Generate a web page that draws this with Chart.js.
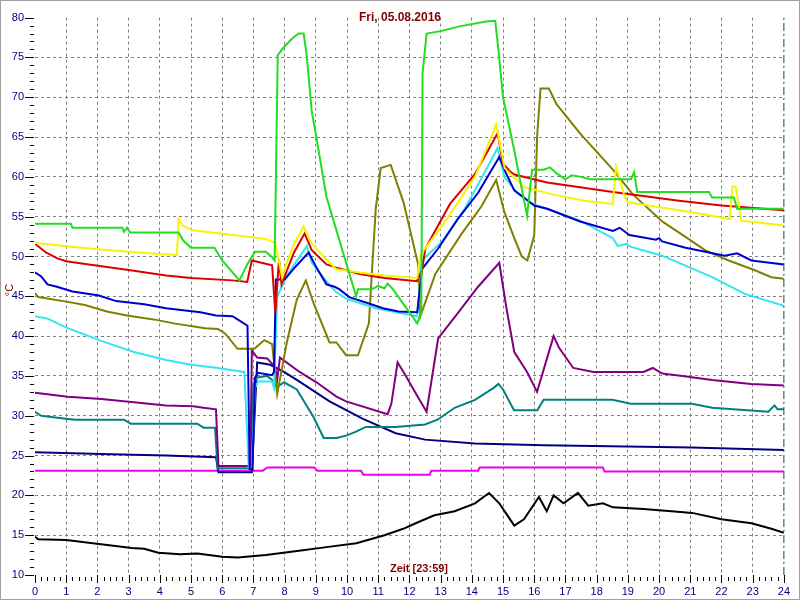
<!DOCTYPE html>
<html>
<head>
<meta charset="utf-8">
<script src="https://cdn.jsdelivr.net/npm/chart.js@4.4.1/dist/chart.umd.min.js"></script>
<style>
  html, body { margin: 0; padding: 0; background: #ffffff; }
  #wrap { width: 800px; height: 600px; }
</style>
</head>
<body>
<div id="wrap"><canvas id="chart" width="800" height="600"></canvas></div>
<script>
// series data: [hour, °C]
const green = [[0,54.1],[1.15,54.1],[1.2,53.6],[2.8,53.6],[2.85,53.1],[2.95,53.6],[3.05,53.0],[4.6,53.0],[4.75,52.0],[5.0,51.1],[5.75,51.1],[6.0,49.5],[6.33,48.0],[6.55,47.0],[6.8,49.0],[7.05,50.6],[7.4,50.6],[7.6,49.9],[7.68,49.5],[7.78,75.3],[8.0,76.4],[8.25,77.4],[8.45,78.0],[8.61,78.0],[8.71,75.2],[8.87,68.2],[9.02,64.9],[9.34,57.5],[10.29,45.0],[10.35,45.9],[10.8,45.9],[11.0,46.3],[11.2,46.0],[11.3,46.6],[11.45,46.0],[12.25,41.6],[12.38,43.0],[12.42,73.0],[12.55,78.0],[13.0,78.3],[13.6,78.9],[14.45,79.5],[14.75,79.6],[14.85,76.0],[15.0,70.0],[15.36,63.3],[15.77,55.1],[15.93,60.9],[16.3,60.9],[16.5,61.2],[16.7,60.5],[17.0,59.7],[17.2,60.2],[17.5,60.0],[17.8,59.7],[19.1,59.7],[19.2,60.6],[19.3,58.1],[21.6,58.1],[21.7,57.4],[22.4,57.4],[22.5,56.0],[24,56.0]];
const yellow = [[0,51.7],[0.5,51.5],[1,51.3],[2,50.9],[3,50.6],[4,50.3],[4.55,50.2],[4.6,54.7],[4.75,53.8],[5.07,53.3],[6.33,52.7],[7.0,52.4],[7.4,52.2],[7.7,51.7],[7.92,47.4],[8.0,48.5],[8.3,51.5],[8.61,53.8],[8.85,51.7],[9.34,49.6],[9.66,48.4],[10.4,48.0],[11.2,47.6],[12.25,47.3],[12.35,50.2],[13.2,54.7],[14.1,60.0],[14.78,66.6],[15.05,61.1],[15.67,58.7],[16.6,57.8],[17.6,57.0],[18.52,56.6],[18.62,61.3],[18.72,60.0],[18.9,57.5],[19.0,56.8],[20,56.2],[21,55.6],[22.26,54.7],[22.35,58.8],[22.45,58.8],[22.64,54.5],[23.3,54.2],[24,53.9]];
const red = [[0,51.6],[0.35,50.5],[0.7,49.8],[1.0,49.4],[1.9,48.9],[3,48.3],[4.2,47.6],[5,47.3],[6.33,47.0],[6.8,46.8],[6.95,49.5],[7.6,48.9],[7.7,42.9],[7.82,49.6],[7.9,46.5],[8.0,47.5],[8.3,50.5],[8.64,52.9],[8.87,50.8],[9.34,49.0],[9.66,48.6],[10.4,47.8],[11.2,47.3],[12.24,46.9],[12.4,48.2],[12.51,51.0],[13.3,56.6],[14.09,60.3],[14.83,65.5],[14.99,61.7],[15.25,60.6],[15.36,60.3],[16.41,59.3],[18.52,58.1],[20.64,57.0],[22,56.4],[24,55.8]];
const blue = [[0,48.0],[0.2,47.5],[0.4,46.5],[0.7,46.2],[1.2,45.6],[2.05,45.1],[2.6,44.4],[3.5,44.0],[4.2,43.5],[5.3,43.0],[5.8,42.6],[6.33,42.5],[6.49,42.1],[6.81,41.3],[6.88,23.3],[6.97,23.3],[7.05,34.8],[7.15,35.4],[7.6,35.1],[7.66,35.5],[7.72,47.1],[8.0,47.1],[8.3,48.5],[8.77,50.5],[9.02,48.6],[9.34,46.5],[9.6,46.2],[9.75,45.9],[10.07,44.9],[10.7,44.1],[11.15,43.5],[11.65,43.1],[12.25,43.0],[12.4,48.4],[12.92,51.0],[13.55,54.7],[14.2,58.0],[14.88,62.5],[15.09,60.5],[15.36,58.3],[16.0,56.4],[16.41,56.0],[17.47,54.4],[18.52,53.2],[18.74,53.6],[19.05,52.7],[19.9,52.1],[20.0,52.3],[20.1,51.9],[20.85,51.1],[22.1,50.1],[22.5,50.4],[22.96,49.5],[24,49.0]];
const olive = [[0,45.4],[0.1,44.9],[1.05,44.3],[1.6,43.9],[2.3,43.1],[2.95,42.6],[3.8,42.1],[4.45,41.6],[5.45,41.0],[5.86,40.9],[6.1,40.3],[6.49,38.4],[7.03,38.4],[7.35,39.5],[7.6,39.0],[7.76,32.7],[8.07,39.2],[8.39,44.6],[8.68,47.0],[8.93,44.1],[9.44,39.2],[9.66,39.2],[9.97,37.6],[10.35,37.6],[10.7,41.6],[10.92,56.0],[11.08,61.1],[11.4,61.5],[11.81,56.8],[12.28,49.0],[12.35,42.5],[12.83,47.8],[13.68,52.9],[14.31,56.3],[14.78,59.6],[15.04,55.6],[15.36,52.3],[15.6,50.0],[15.78,49.5],[16.0,52.7],[16.09,65.0],[16.2,71.1],[16.47,71.1],[16.72,69.1],[17.48,65.4],[18.52,60.9],[19.16,57.8],[20.1,54.4],[21.06,51.9],[21.47,50.8],[22.23,49.5],[23.05,48.3],[23.6,47.4],[24,47.2]];
const cyan = [[0,42.5],[0.4,42.2],[1.05,41.0],[2.12,39.4],[3.17,38.0],[4.2,37.0],[5.0,36.4],[5.86,36.0],[6.33,35.7],[6.71,35.5],[6.85,23.5],[6.95,23.5],[7.05,33.5],[7.15,34.3],[7.6,34.3],[7.66,33.5],[7.76,44.9],[8.07,47.6],[8.71,51.3],[8.87,49.2],[9.44,46.4],[9.66,45.5],[9.97,44.7],[10.92,43.5],[12.25,42.5],[12.4,49.5],[13.05,51.9],[13.77,56.0],[14.5,61.2],[14.82,63.6],[15.04,60.0],[15.45,58.0],[16.0,56.5],[16.41,56.0],[17.47,54.5],[18.52,52.3],[18.68,51.3],[18.95,51.6],[19.1,51.2],[20.1,50.1],[21.7,47.4],[22.75,45.3],[24,43.8]];
const purple = [[0,32.9],[1.05,32.4],[2.12,32.1],[3.17,31.7],[4.2,31.3],[5.07,31.2],[5.4,31.0],[5.8,30.8],[5.88,23.7],[6.9,23.7],[6.95,38.2],[7.12,37.3],[7.44,37.2],[7.7,36.1],[7.76,34.5],[7.85,37.3],[8.48,35.5],[9.02,34.2],[9.66,32.4],[9.97,31.8],[11.3,30.2],[11.42,31.5],[11.62,36.7],[11.81,35.5],[12.28,32.3],[12.55,30.5],[12.92,39.7],[13.55,42.9],[14.2,46.2],[14.88,49.2],[15.1,43.7],[15.36,38.0],[15.77,35.5],[16.09,33.0],[16.62,40.0],[16.8,38.5],[17.25,36.0],[17.9,35.5],[19.5,35.5],[19.8,36.0],[20.1,35.3],[20.75,35.0],[21.7,34.5],[22.95,34.0],[24,33.8]];
const teal = [[0,30.5],[0.2,30.0],[1.05,29.6],[1.3,29.5],[2.85,29.5],[3.07,29.0],[5.2,29.0],[5.4,28.5],[5.77,28.5],[5.85,23.4],[6.9,23.4],[7.0,34.0],[7.12,34.8],[7.44,35.0],[7.6,34.5],[7.76,33.6],[7.98,34.2],[8.39,33.3],[8.93,29.8],[9.25,27.2],[9.66,27.2],[9.97,27.5],[10.29,28.0],[10.6,28.6],[11.55,28.6],[12.5,28.9],[12.9,29.5],[13.45,31.0],[14.1,32.0],[14.7,33.5],[14.85,34.0],[15.0,33.3],[15.35,30.7],[16.1,30.7],[16.3,32.0],[18.5,32.0],[19.1,31.5],[21.05,31.5],[21.7,31.0],[23.5,30.5],[23.7,31.3],[23.8,30.8],[24,30.8]];
const navy = [[0,25.4],[2.12,25.2],[4.2,25.0],[5.8,24.8],[5.88,22.9],[6.95,22.9],[7.12,36.7],[7.54,36.4],[7.98,35.5],[8.39,34.5],[9.44,31.8],[10.51,29.6],[11.56,27.8],[12.5,27.0],[14.1,26.5],[16.3,26.3],[17.9,26.2],[21.05,26.0],[24,25.7]];
const magenta = [[0,23.1],[7.3,23.1],[7.45,23.5],[8.95,23.5],[9.05,23.1],[10.45,23.1],[10.52,22.6],[12.65,22.6],[12.7,23.1],[14.2,23.1],[14.25,23.5],[18.2,23.5],[18.25,23.0],[24,23.0]];
const black = [[0,14.8],[0.1,14.5],[1.0,14.4],[2.05,13.9],[3.1,13.4],[3.5,13.3],[3.95,12.8],[4.65,12.6],[5.2,12.7],[6.0,12.3],[6.5,12.2],[7.4,12.5],[8.4,13.0],[9.34,13.5],[10.3,14.0],[11.2,15.0],[11.8,15.8],[12.2,16.5],[12.8,17.5],[13.45,18.0],[14.1,19.0],[14.55,20.3],[14.88,19.0],[15.36,16.2],[15.67,17.0],[16.15,19.8],[16.4,18.0],[16.62,20.0],[16.94,19.0],[17.4,20.3],[17.73,18.7],[18.2,19.0],[18.52,18.5],[19.5,18.3],[20.4,18.0],[21.06,17.8],[22.0,17.0],[22.96,16.5],[23.6,15.8],[24,15.3]];
const nowMarker = [[24,10],[24,80]];

const titleText = "Fri, 05.08.2016";
const xLabel = "Zeit [23:59]";
const yLabel = "°C";

const FONT = "'Liberation Sans', Arial, sans-serif";

function ds(pts, color, extra) {
  return Object.assign({
    data: pts.map(p => ({x: p[0], y: p[1]})),
    borderColor: color,
    borderWidth: 2,
    pointRadius: 0,
    tension: 0,
    fill: false
  }, extra || {});
}

// minor ticks, title, axis labels, frame
const decor = {
  id: 'decor',
  afterDraw(chart) {
    const c = chart.ctx, xs = chart.scales.x, ys = chart.scales.y, a = chart.chartArea;
    c.save();
    c.strokeStyle = '#000000';
    c.lineWidth = 1;
    c.beginPath();
    for (let v = 10; v <= 80; v++) {
      const y = Math.round(ys.getPixelForValue(v)) + 0.5;
      const major = v % 5 === 0;
      c.moveTo(major ? a.left - 10 : a.left - 5, y);
      c.lineTo(a.left - 1, y);
    }
    for (let i = 0; i <= 120; i++) {
      const x = Math.round(xs.getPixelForValue(i / 5)) + 0.5;
      const major = i % 5 === 0;
      c.moveTo(x, major ? a.bottom : a.bottom + 2);
      c.lineTo(x, major ? a.bottom + 8 : a.bottom + 6);
    }
    c.stroke();

    c.fillStyle = '#800000';
    c.textAlign = 'center';
    c.textBaseline = 'middle';
    c.font = 'bold 12px ' + FONT;
    c.fillText(titleText, 400, 18);
    c.font = 'bold 11px ' + FONT;
    c.fillText(xLabel, 419, 569);
    c.font = '11px ' + FONT;
    c.translate(10, 290);
    c.rotate(-Math.PI / 2);
    c.fillText(yLabel, 0, 0);
    c.restore();

    c.save();
    c.strokeStyle = '#a0a0a0';
    c.strokeRect(0.5, 0.5, 799, 599);
    c.restore();
  }
};

function gridColor(ctx) {
  const v = ctx.tick.value;
  const s = ctx.scale;
  return (v === s.min || v === s.max) ? 'rgba(0,0,0,0)' : '#808080';
}

new Chart(document.getElementById('chart'), {
  type: 'line',
  data: {
    datasets: [
      ds(nowMarker, '#006400', {borderWidth: 1, borderDash: [8, 3, 2, 3], clip: 4}),
      ds(green, '#22dd22'),
      ds(yellow, '#f5f500'),
      ds(red, '#dd0000'),
      ds(blue, '#0000cc'),
      ds(cyan, '#33e5ef'),
      ds(olive, '#808000'),
      ds(purple, '#800080'),
      ds(teal, '#008080'),
      ds(navy, '#000080'),
      ds(magenta, '#ee00ee'),
      ds(black, '#000000')
    ]
  },
  options: {
    responsive: false,
    animation: false,
    layout: {padding: {top: 4, right: 7, left: 0, bottom: 0}},
    plugins: {legend: {display: false}, tooltip: {enabled: false}, title: {display: false}},
    scales: {
      x: {
        type: 'linear', min: 0, max: 24,
        afterFit(s) { s.height = 25; },
        border: {display: false, dash: [3, 3]},
        grid: {color: gridColor, lineWidth: 1, drawTicks: false},
        ticks: {stepSize: 1, padding: 10, color: '#000080', font: {family: FONT, size: 11}, maxRotation: 0, autoSkip: false}
      },
      y: {
        min: 10, max: 80,
        afterFit(s) { s.width = 35; },
        border: {display: false, dash: [3, 3]},
        grid: {color: gridColor, lineWidth: 1, drawTicks: false},
        ticks: {stepSize: 5, padding: 11, color: '#000080', font: {family: FONT, size: 11}}
      }
    }
  },
  plugins: [decor]
});
</script>
</body>
</html>
